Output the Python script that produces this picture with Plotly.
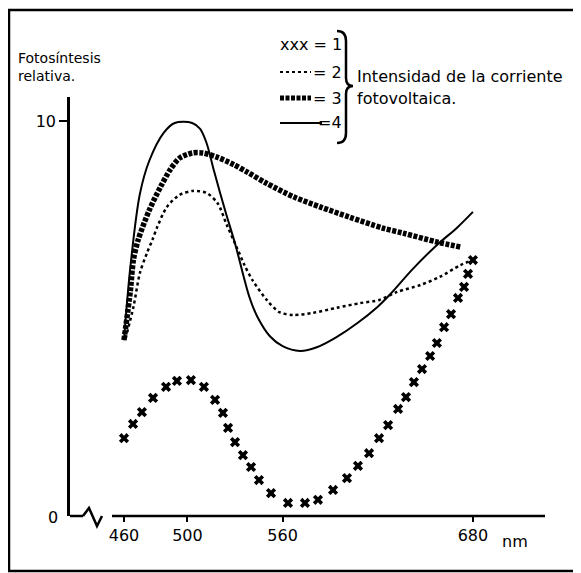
import plotly.graph_objects as go

# ---------------- data ----------------
wl_1 = [460, 465.7, 471.3, 478.3, 486.5, 493.4, 502.2, 510.4, 517.4, 522.4, 525.6, 530.0,
        535.0, 540.1, 545.1, 552.7, 563.4, 574.1, 582.3, 591.8, 600.6, 607.5, 614.5, 620.8,
        626.5, 632.8, 637.8, 642.8, 647.9, 653.0, 657.3, 661.8, 666.2, 670.6, 674.4, 676.9, 680.0]
val_1 = [1.97, 2.33, 2.63, 2.99, 3.27, 3.42, 3.44, 3.27, 2.94, 2.61, 2.23, 1.87,
         1.54, 1.24, 0.91, 0.58, 0.33, 0.33, 0.41, 0.66, 0.96, 1.27, 1.59, 1.97,
         2.30, 2.71, 3.01, 3.39, 3.72, 4.05, 4.38, 4.78, 5.11, 5.52, 5.80, 6.13, 6.48]

wl_2 = [461, 466, 470, 474.5, 478, 481, 487, 495, 503.5, 512, 519, 525, 531, 536, 541,
        550, 558, 567, 579, 594, 609, 621, 632, 647, 659, 672, 678]
val_2 = [4.5, 5.3, 6.15, 6.66, 7.0, 7.32, 7.82, 8.13, 8.23, 8.18, 7.92, 7.35, 6.81, 6.35, 5.97,
         5.47, 5.16, 5.09, 5.14, 5.27, 5.39, 5.47, 5.67, 5.85, 6.05, 6.35, 6.45]

wl_3 = [460, 464, 466, 469, 476, 483, 489, 495, 503, 510, 519, 529, 538, 550, 567, 584,
        602, 623, 636, 657, 672]
val_3 = [4.45, 5.7, 6.5, 7.0, 7.75, 8.33, 8.76, 9.06, 9.19, 9.19, 9.08, 8.9, 8.7, 8.42,
         8.08, 7.82, 7.57, 7.29, 7.16, 6.94, 6.81]

wl_4 = [460, 464, 470, 476, 485, 492, 503, 508, 512, 517, 524, 530, 539, 544, 552,
        560, 571, 582, 594, 607, 620, 628, 642, 657, 670, 680]
val_4 = [4.45, 6.3, 8.15, 9.0, 9.7, 9.95, 9.95, 9.8, 9.45, 8.7, 7.7, 6.9, 5.55, 5.05,
         4.55, 4.3, 4.18, 4.28, 4.53, 4.88, 5.3, 5.62, 6.25, 6.85, 7.3, 7.7]

x_ticks = [460, 500, 560, 680]
y_ticks = [10]
legend_labels = ["xxx = 1", "= 2", "= 3", "=4"]
y_title = ["Fotosíntesis", "relativa."]
note_lines = ["Intensidad de la corriente", "fotovoltaica."]

# ---------------- geometry helpers (page pixels; body has an 8px margin) ----------------
OFF = 8
W, H = 581 - OFF, 573 - OFF
def px(x):
    return (x - OFF) / W
def py(y):
    return 1 - (y - OFF) / H
def nm(xp):
    return 460 + (xp - 124) / 1.586
def val(yp):
    return (516 - yp) / 39.5

FONT = "DejaVu Sans"
fig = go.Figure()

fig.add_trace(go.Scatter(x=wl_4, y=val_4, mode="lines",
                         line=dict(color="black", width=2, shape="spline", smoothing=0.9)))
fig.add_trace(go.Scatter(x=wl_2, y=val_2, mode="lines",
                         line=dict(color="black", width=2.5, dash="dot", shape="spline", smoothing=0.8)))
fig.add_trace(go.Scatter(x=wl_3, y=val_3, mode="lines",
                         line=dict(color="black", width=5.5, dash="4px,1.5px", shape="spline", smoothing=0.8)))
fig.add_trace(go.Scatter(x=wl_1, y=val_1, mode="markers",
                         marker=dict(symbol="x", size=9, color="black", line=dict(width=0))))

shapes = []
# frame
shapes.append(dict(type="rect", xref="paper", yref="paper", x0=px(9), x1=px(577), y0=py(571), y1=py(10),
                   line=dict(color="black", width=2.5)))
# x axis with break
shapes.append(dict(type="line", xref="paper", yref="paper", x0=px(70), x1=px(83), y0=py(516), y1=py(516),
                   line=dict(color="black", width=2.5)))
zz = [(83, 516), (89, 508), (97, 526), (102, 516)]
path = "M " + " L ".join(f"{px(a)},{py(b)}" for a, b in zz)
shapes.append(dict(type="path", xref="paper", yref="paper", path=path, line=dict(color="black", width=2.5)))
shapes.append(dict(type="line", xref="paper", yref="paper", x0=px(112), x1=px(545), y0=py(516), y1=py(516),
                   line=dict(color="black", width=2.5)))
# legend samples
shapes.append(dict(type="line", xref="paper", yref="paper", x0=px(280), x1=px(311), y0=py(72), y1=py(72),
                   line=dict(color="black", width=2, dash="dot")))
shapes.append(dict(type="line", xref="paper", yref="paper", x0=px(280), x1=px(311), y0=py(98), y1=py(98),
                   line=dict(color="black", width=5, dash="4px,1.5px")))
shapes.append(dict(type="line", xref="paper", yref="paper", x0=px(280), x1=px(322), y0=py(123), y1=py(123),
                   line=dict(color="black", width=2)))
# brace
b = ("M {a},{b} Q {c},{b} {c},{d} L {c},{e} Q {c},{f} {g},{f} Q {c},{f} {c},{h} L {c},{i} Q {c},{j} {a},{j}").format(
    a=px(337), b=py(31), c=px(346), d=py(41), e=py(78), f=py(86), g=px(353), h=py(94), i=py(133), j=py(143))
shapes.append(dict(type="path", xref="paper", yref="paper", path=b, line=dict(color="black", width=2.5)))

ann = []
for i, t in enumerate(legend_labels):
    ann.append(dict(text=t, x=px(344), y=py([44, 72, 98, 123][i]), xref="paper", yref="paper",
                    xanchor="right", yanchor="middle", showarrow=False, font=dict(family=FONT, size=16, color="black")))
for i, t in enumerate(note_lines):
    ann.append(dict(text=t, x=px(355), y=py([76, 99][i]), xref="paper", yref="paper",
                    xanchor="left", yanchor="middle", showarrow=False, font=dict(family=FONT, size=16, color="black")))
for i, t in enumerate(y_title):
    ann.append(dict(text=t, x=px(16), y=py([58, 76][i]), xref="paper", yref="paper",
                    xanchor="left", yanchor="middle", showarrow=False, font=dict(family=FONT, size=14, color="black")))
ann.append(dict(text="0", x=px(60), y=py(517), xref="paper", yref="paper", xanchor="right", yanchor="middle",
                showarrow=False, font=dict(family=FONT, size=16, color="black")))
ann.append(dict(text="nm", x=px(500), y=py(541), xref="paper", yref="paper", xanchor="left", yanchor="middle",
                showarrow=False, font=dict(family=FONT, size=16, color="black")))

fig.update_layout(
    width=W, height=H, autosize=False,
    margin=dict(l=0, r=0, t=0, b=0),
    paper_bgcolor="white", plot_bgcolor="white",
    showlegend=False,
    shapes=shapes, annotations=ann,
    xaxis=dict(domain=[px(70), px(545)], range=[nm(70), nm(545)], showline=False, showgrid=False,
               zeroline=False, tickvals=x_ticks, ticks="outside", ticklen=5, tickwidth=2, tickcolor="black",
               tickfont=dict(family=FONT, size=16, color="black")),
    yaxis=dict(domain=[py(516), py(97)], range=[0, val(97)], showline=True, linewidth=2.5, linecolor="black",
               showgrid=False, zeroline=False, tickvals=y_ticks, ticks="outside", ticklen=8, tickwidth=2,
               tickcolor="black", tickfont=dict(family=FONT, size=16, color="black")),
)

fig.write_html("out.html")
